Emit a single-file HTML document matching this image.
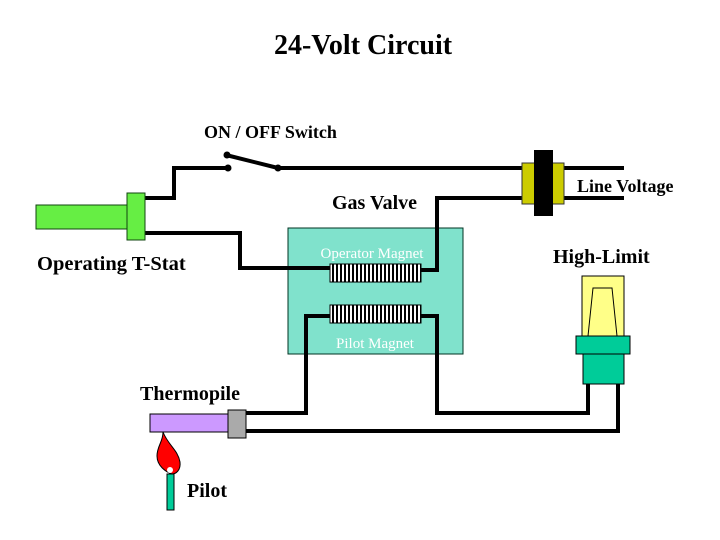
<!DOCTYPE html>
<html><head><style>html,body{margin:0;padding:0;background:#fff;}</style></head>
<body>
<svg width="720" height="540" xmlns="http://www.w3.org/2000/svg" style="display:block">
<defs>
<pattern id="coil" x="0" y="0" width="4" height="10" patternUnits="userSpaceOnUse">
<rect width="4" height="10" fill="#fff"/><rect width="2" height="10" fill="#000"/>
</pattern>
</defs>
<rect width="720" height="540" fill="#fff"/>
<g font-family="Liberation Serif, serif" font-weight="bold" fill="#000">
<text x="363" y="54" font-size="28" text-anchor="middle">24-Volt Circuit</text>
<text x="204" y="138" font-size="18">ON / OFF Switch</text>
<text x="332" y="209" font-size="20">Gas Valve</text>
<text x="577" y="192" font-size="18">Line Voltage</text>
<text x="553" y="263" font-size="20">High-Limit</text>
<text x="37" y="270" font-size="20.5">Operating T-Stat</text>
<text x="140" y="400" font-size="20">Thermopile</text>
<text x="187" y="497" font-size="20">Pilot</text>
</g>
<!-- gas valve box -->
<rect x="288" y="228" width="175" height="126" fill="#80e2cc" stroke="#003322" stroke-width="1"/>
<g fill="none" stroke="#000" stroke-width="4">
<polyline points="144,198 174,198 174,168 228,168"/>
<line x1="226" y1="155" x2="278" y2="168"/>
<line x1="278" y1="168" x2="524" y2="168"/>
<polyline points="421,270 437,270 437,198 524,198"/>
<line x1="564" y1="168" x2="624" y2="168"/>
<line x1="564" y1="198" x2="624" y2="198"/>
<polyline points="144,233 240,233 240,268 330,268"/>
<polyline points="330,316 306,316 306,413 244,413"/>
<polyline points="421,316 437,316 437,413 588,413 588,384"/>
<polyline points="244,431 618,431 618,384"/>
</g>
<circle cx="227" cy="155" r="3.5"/><circle cx="228" cy="168" r="3.5"/><circle cx="278" cy="168" r="3.5"/>
<text x="372" y="258" font-family="Liberation Serif, serif" font-size="15" fill="#fff" text-anchor="middle">Operator Magnet</text>
<text x="375" y="348" font-family="Liberation Serif, serif" font-size="15" fill="#fff" text-anchor="middle">Pilot Magnet</text>
<rect x="330" y="264" width="91" height="18" fill="url(#coil)" stroke="#000" stroke-width="1"/>
<rect x="330" y="305" width="91" height="18" fill="url(#coil)" stroke="#000" stroke-width="1"/>
<!-- T-stat -->
<rect x="36" y="205" width="92" height="24" fill="#66ee44" stroke="#114411" stroke-width="1"/>
<rect x="127" y="193" width="18" height="47" fill="#66ee44" stroke="#114411" stroke-width="1"/>
<!-- line voltage -->
<rect x="522" y="163" width="42" height="41" fill="#cccc00" stroke="#333" stroke-width="1"/>
<rect x="534" y="150" width="19" height="66" fill="#000"/>
<!-- high limit -->
<rect x="582" y="276" width="42" height="60" fill="#ffff88" stroke="#000" stroke-width="1"/>
<polyline points="588,336 593,288 612,288 617,336" fill="none" stroke="#000" stroke-width="1"/>
<rect x="576" y="336" width="54" height="18" fill="#00cc99" stroke="#000" stroke-width="1"/>
<rect x="583" y="354" width="41" height="30" fill="#00cc99" stroke="#000" stroke-width="1"/>
<!-- thermopile -->
<rect x="150" y="414" width="79" height="18" fill="#cc99ff" stroke="#000" stroke-width="1"/>
<rect x="228" y="410" width="18" height="28" fill="#aaaaaa" stroke="#000" stroke-width="1"/>
<!-- pilot -->
<rect x="167" y="474" width="7" height="36" fill="#00cc99" stroke="#000" stroke-width="1"/>
<path d="M163,432 C168,445 178,450 180,462 C181,470 176,474 172,474 C166,472 157,466 157,456 C157,446 163,442 163,432 Z" fill="#ff0000" stroke="#000" stroke-width="1"/>
<circle cx="170" cy="470" r="3" fill="#fff"/>
</svg>
</body></html>
